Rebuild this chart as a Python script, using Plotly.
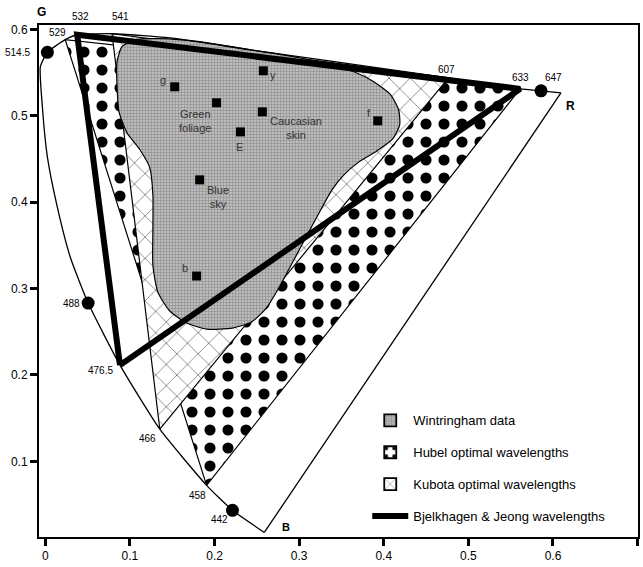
import plotly.graph_objects as go

# ---------------- data (CIE 1976 u', v') ----------------
# spectral locus, from the blue end (B) to the red end (R)
locus_u = [0.2588, 0.2212, 0.1906, 0.1353, 0.0882, 0.0506, 0.0294, 0.0141, 0.0024, -0.0035,
           -0.0059, 0.0024, 0.0235, 0.0376, 0.0788, 0.1471, 0.2412, 0.3353, 0.4765, 0.5612,
           0.5859, 0.6094]
locus_v = [0.0178, 0.0434, 0.0723, 0.1372, 0.2114, 0.2832, 0.3366, 0.3945, 0.4524, 0.5104,
           0.5567, 0.5734, 0.5880, 0.5937, 0.5949, 0.5901, 0.5764, 0.5635, 0.5438, 0.5311,
           0.5288, 0.5265]

# labelled wavelengths (nm) on the locus
wl_names = ["442", "458", "466", "476.5", "488", "514.5", "529", "532", "541", "607", "633", "647"]
wl_u = [0.2212, 0.1906, 0.1353, 0.0882, 0.0506, 0.0024, 0.0235, 0.0376, 0.0788, 0.4765, 0.5612, 0.5859]
wl_v = [0.0434, 0.0723, 0.1372, 0.2114, 0.2832, 0.5734, 0.5880, 0.5937, 0.5949, 0.5438, 0.5311, 0.5288]

laser_dots = ["442", "488", "514.5", "647"]
hubel_wl = ["458", "529", "633"]
kubota_wl = ["466", "541", "607"]
bjelkhagen_wl = ["476.5", "532", "633"]

# Wintringham surface-colour gamut outline
blob_u = [0.0847, 0.0906, 0.1059, 0.1353, 0.1824, 0.2412, 0.3000, 0.3647, 0.3882, 0.4082,
          0.4176, 0.4188, 0.4106, 0.3918, 0.3706, 0.3529, 0.3388, 0.3235, 0.3082, 0.2918,
          0.2765, 0.2612, 0.2435, 0.2212, 0.1906, 0.1671, 0.1471, 0.1329, 0.1271, 0.1271,
          0.1271, 0.1235, 0.1118, 0.0965, 0.0871, 0.0847]
blob_v = [0.5625, 0.5799, 0.5880, 0.5892, 0.5857, 0.5764, 0.5671, 0.5509, 0.5393, 0.5242,
          0.5068, 0.4895, 0.4732, 0.4593, 0.4466, 0.4315, 0.4142, 0.3875, 0.3597, 0.3296,
          0.3018, 0.2774, 0.2612, 0.2543, 0.2531, 0.2601, 0.2740, 0.2960, 0.3273, 0.3679,
          0.4084, 0.4397, 0.4606, 0.4803, 0.5046, 0.5358]

# sample colours
sample_names = ["g", "Green<br>foliage", "y", "Caucasian<br>skin", "E", "f", "Blue<br>sky", "b"]
sample_u = [0.1529, 0.2024, 0.2576, 0.2565, 0.2306, 0.3929, 0.1824, 0.1788]
sample_v = [0.5335, 0.5150, 0.5520, 0.5045, 0.4813, 0.4941, 0.4258, 0.3145]

x_ticks = [0, 0.1, 0.2, 0.3, 0.4, 0.5, 0.6, 0.7]
y_ticks = [0.1, 0.2, 0.3, 0.4, 0.5, 0.6]

legend_names = ["Wintringham data", "Hubel optimal wavelengths",
                "Kubota optimal wavelengths", "Bjelkhagen & Jeong wavelengths"]

# ---------------- styling (offsets in px) ----------------
wl_shift = {"442": (-13, -9), "458": (-9, -10), "466": (-12, -9), "476.5": (-19, -5),
            "488": (-17, 0), "514.5": (-30, 0), "529": (-8, 7), "532": (3, 18),
            "541": (8, 17), "607": (-2, 8), "633": (0, 11), "647": (12, 13)}
sample_shift = [(-12, 7), (-22, -18), (10, -4), (34, -16), (-1, -15), (-9, 8), (18, -17), (-12, 8)]

FONT = "Liberation Sans, Arial, Helvetica, sans-serif"
wl = {n: (u, v) for n, u, v in zip(wl_names, wl_u, wl_v)}

GREY = dict(shape="+", size=3, solidity=0.35, fgcolor="#8a8a8a", bgcolor="#bcbcbc",
            fillmode="replace")
DOTS = dict(shape=".", size=18, solidity=0.3, fgcolor="black", bgcolor="white",
            fillmode="replace")
SCALE = dict(shape="x", size=15, solidity=0.07, fgcolor="#333333", bgcolor="white",
             fillmode="replace")
# smaller tiles for the 12 px legend boxes
LEGEND_PATTERNS = [dict(GREY), dict(DOTS, size=12, solidity=0.18), dict(SCALE, size=12, solidity=0.08)]


def tri(names):
    us = [wl[n][0] for n in names] + [wl[names[0]][0]]
    vs = [wl[n][1] for n in names] + [wl[names[0]][1]]
    return us, vs


fig = go.Figure()

# Hubel gamut (dots)
hu, hv = tri(hubel_wl)
fig.add_trace(go.Scatter(
    x=hu, y=hv, mode="lines", fill="toself", showlegend=False,
    line=dict(color="black", width=1.2), fillcolor="white", fillpattern=DOTS, hoverinfo="skip"))

# Kubota gamut (scallops)
ku, kv = tri(kubota_wl)
fig.add_trace(go.Scatter(
    x=ku, y=kv, mode="lines", fill="toself", showlegend=False,
    line=dict(color="black", width=1.2), fillcolor="white", fillpattern=SCALE, hoverinfo="skip"))

# Wintringham data (grey)
fig.add_trace(go.Scatter(
    x=blob_u + [blob_u[0]], y=blob_v + [blob_v[0]], mode="lines", fill="toself",
    showlegend=False, line=dict(color="black", width=1.2, shape="spline", smoothing=0.6),
    fillcolor="#b0b0b0", fillpattern=GREY, hoverinfo="skip"))

# sample colour markers
fig.add_trace(go.Scatter(
    x=sample_u, y=sample_v, mode="markers", showlegend=False, hoverinfo="skip",
    marker=dict(symbol="square", size=9, color="black")))

# spectral locus + purple line
fig.add_trace(go.Scatter(
    x=locus_u, y=locus_v, mode="lines", showlegend=False, hoverinfo="skip",
    line=dict(color="black", width=1.3, shape="spline", smoothing=0.5)))
fig.add_trace(go.Scatter(
    x=[locus_u[-1], locus_u[0]], y=[locus_v[-1], locus_v[0]], mode="lines",
    showlegend=False, hoverinfo="skip", line=dict(color="black", width=1.3)))

# Bjelkhagen & Jeong triangle (thick)
bu, bv = tri(bjelkhagen_wl)
fig.add_trace(go.Scatter(
    x=bu, y=bv, mode="lines", showlegend=False,
    line=dict(color="black", width=6), hoverinfo="skip"))

# laser-line dots
fig.add_trace(go.Scatter(
    x=[wl[n][0] for n in laser_dots], y=[wl[n][1] for n in laser_dots], mode="markers",
    showlegend=False, hoverinfo="skip", marker=dict(size=13, color="black")))

# legend entries (no visible data of their own)
for i, (nm, pat) in enumerate(zip(legend_names[:3], LEGEND_PATTERNS)):
    fig.add_trace(go.Bar(
        x=[None], y=[None], name=nm, legendgroup=str(i), legendrank=i + 1,
        marker=dict(color="white", line=dict(color="black", width=1.8), pattern=pat)))
fig.add_trace(go.Scatter(
    x=[None], y=[None], mode="lines", name=legend_names[3], legendgroup="3", legendrank=4,
    line=dict(color="black", width=6)))

ann = []
for n in wl_names:
    dx, dy = wl_shift[n]
    ann.append(dict(x=wl[n][0], y=wl[n][1], text=n, showarrow=False, xshift=dx, yshift=dy,
                    font=dict(size=10, color="black", family=FONT)))
for name, u, v, (dx, dy) in zip(sample_names, sample_u, sample_v, sample_shift):
    ann.append(dict(x=u, y=v, text=name, showarrow=False, xshift=dx, yshift=dy,
                    font=dict(size=11, color="#333333", family=FONT)))
# primary corner letters
ann.append(dict(x=wl["514.5"][0], y=wl["514.5"][1], text="<b>G</b>", showarrow=False,
                xshift=-6, yshift=40, font=dict(size=12, color="black", family=FONT)))
ann.append(dict(x=locus_u[-1], y=locus_v[-1], text="<b>R</b>", showarrow=False,
                xshift=10, yshift=-13, font=dict(size=12, color="black", family=FONT)))
ann.append(dict(x=locus_u[0], y=locus_v[0], text="<b>B</b>", showarrow=False,
                xshift=22, yshift=5, font=dict(size=11, color="black", family=FONT)))

axis_common = dict(showgrid=False, zeroline=False, showline=True, linecolor="black",
                   linewidth=2, mirror=True, ticks="outside", ticklen=7, tickwidth=2.5,
                   tickcolor="black", automargin=False,
                   tickfont=dict(size=12, color="black", family=FONT))

fig.update_layout(
    width=643, height=567,
    margin=dict(l=39, r=5, t=25, b=30, autoexpand=False),
    paper_bgcolor="white", plot_bgcolor="white",
    xaxis=dict(range=[-0.0075, 0.7005], tickvals=x_ticks,
               ticktext=[("%g" % t) for t in x_ticks], **axis_common),
    yaxis=dict(range=[0.0125, 0.605], tickvals=y_ticks,
               ticktext=[("%g" % t) for t in y_ticks], **axis_common),
    showlegend=True,
    legend=dict(x=0.548, y=0.257, xanchor="left", yanchor="top", bgcolor="rgba(0,0,0,0)",
                borderwidth=0, tracegroupgap=12, itemwidth=36,
                font=dict(size=13, color="black", family=FONT)),
    annotations=ann,
    font=dict(family=FONT),
)

fig.write_html("out.html", config={"displayModeBar": False},
               post_script="document.body.style.margin='0';document.body.style.overflow='hidden';")
